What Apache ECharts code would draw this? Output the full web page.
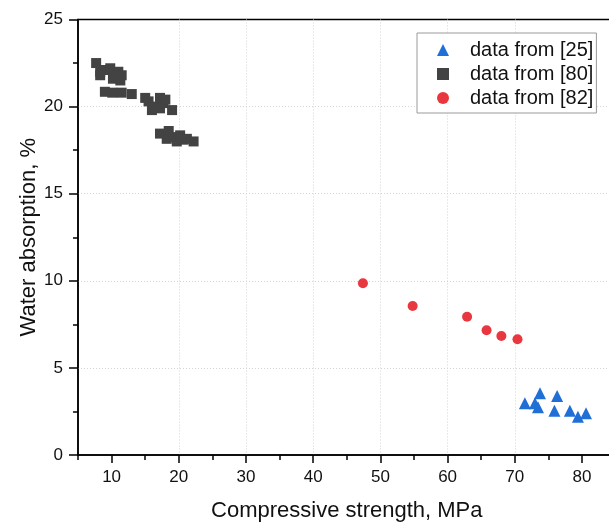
<!DOCTYPE html>
<html>
<head>
<meta charset="utf-8">
<script src="https://cdn.jsdelivr.net/npm/echarts@6.0.0/dist/echarts.min.js"></script>
<style>
  html, body { margin: 0; padding: 0; background: #fff; }
  #chart { width: 609px; height: 524px; }
</style>
</head>
<body>
<div id="chart"></div>
<script>
// data from [25] - triangles
const data25 = [
  [71.5, 2.97], [73.0, 2.97], [73.45, 2.74], [73.75, 3.54], [75.9, 2.54],
  [76.3, 3.39], [78.2, 2.54], [79.4, 2.2], [80.6, 2.39]
]
// data from [80] - squares
const data80 = [
  [7.7, 22.5], [8.3, 22.0], [8.3, 21.8], [9.0, 22.1], [9.8, 22.2], [10.3, 21.9],
  [10.2, 21.6], [11.0, 22.0], [11.5, 21.8], [11.3, 21.5],
  [9.0, 20.85], [10.1, 20.8], [11.5, 20.8], [13.0, 20.72],
  [15.0, 20.5], [15.5, 20.3], [16.0, 19.8], [16.5, 20.0], [17.2, 20.5], [17.2, 19.9],
  [17.7, 20.2], [18.0, 20.4], [19.0, 19.8],
  [17.2, 18.45], [18.2, 18.15], [18.5, 18.6], [19.2, 18.25], [19.7, 18.0],
  [20.2, 18.35], [20.7, 18.1], [21.2, 18.15], [22.2, 18.0]
]
// data from [82] - circles
const data82 = [
  [47.4, 9.86], [54.8, 8.55], [62.9, 7.94], [65.8, 7.16], [68.0, 6.83], [70.4, 6.64]
]
const xMajorTicks = [10, 20, 30, 40, 50, 60, 70, 80]
const xMinorTicks = [5, 15, 25, 35, 45, 55, 65, 75, 85]

const font = "'Liberation Sans', Arial, sans-serif"
const gridLine = {
  show: true, showMinLine: false, showMaxLine: false,
  lineStyle: { color: '#d4d4d4', type: [1, 2], width: 1 }
}

const chart = echarts.init(document.getElementById('chart'))
chart.setOption({
  animation: false,
  backgroundColor: '#fff',
  textStyle: { fontFamily: font },
  grid: {
    left: 78, top: 19.5, width: 537.6, height: 435.5,
    outerBoundsMode: 'none', containLabel: false,
    show: true, borderColor: '#000', borderWidth: 1.5, backgroundColor: 'transparent'
  },
  legend: {
    orient: 'vertical',
    left: 417, top: 33,
    padding: [6, 3, 4, 20],
    itemGap: 2,
    itemWidth: 12,
    itemHeight: 12,
    backgroundColor: '#fff',
    borderColor: '#9a9a9a',
    borderWidth: 1,
    borderRadius: 0,
    textStyle: { fontSize: 20, lineHeight: 22, color: '#111', fontFamily: font, padding: [0, 0, 0, 16] },
    data: ['data from [25]', 'data from [80]', 'data from [82]']
  },
  xAxis: [
    {
      type: 'value', min: 5, max: 85, interval: 5,
      name: 'Compressive strength, MPa', nameLocation: 'middle', nameGap: 45, nameMoveOverlap: false,
      nameTextStyle: { fontSize: 22, color: '#111', fontFamily: font },
      axisLine: { show: true, lineStyle: { color: '#000', width: 1.5 } },
      axisTick: { show: true, length: 8, customValues: xMajorTicks, lineStyle: { color: '#000', width: 1.5 } },
      axisLabel: { customValues: xMajorTicks, fontSize: 17, color: '#111', margin: 14 },
      splitLine: gridLine
    },
    {
      type: 'value', min: 5, max: 85, interval: 5, position: 'bottom',
      axisLine: { show: false },
      axisTick: { show: true, length: 5, customValues: xMinorTicks, lineStyle: { color: '#000', width: 1.5 } },
      axisLabel: { show: false },
      splitLine: { show: false }
    }
  ],
  yAxis: {
    type: 'value', min: 0, max: 25, interval: 5,
    name: 'Water absorption, %', nameLocation: 'middle', nameGap: 38, nameMoveOverlap: false,
    nameTextStyle: { fontSize: 22, color: '#111', fontFamily: font },
    axisLine: { show: true, lineStyle: { color: '#000', width: 1.5 } },
    axisTick: { show: true, length: 9, lineStyle: { color: '#000', width: 1.5 } },
    minorTick: { show: true, splitNumber: 2, length: 5, lineStyle: { color: '#000', width: 1.5 } },
    axisLabel: { fontSize: 17, color: '#111', margin: 15 },
    splitLine: gridLine
  },
  series: [
    {
      name: 'data from [25]', type: 'scatter', symbol: 'triangle', symbolSize: 12,
      itemStyle: { color: '#1f6fd6', opacity: 1 }, data: data25
    },
    {
      name: 'data from [80]', type: 'scatter', symbol: 'rect', symbolSize: 10,
      itemStyle: { color: '#434343', opacity: 1 }, data: data80
    },
    {
      name: 'data from [82]', type: 'scatter', symbol: 'circle', symbolSize: 10,
      itemStyle: { color: '#e8373f', opacity: 1 }, data: data82
    }
  ]
})
</script>
</body>
</html>
